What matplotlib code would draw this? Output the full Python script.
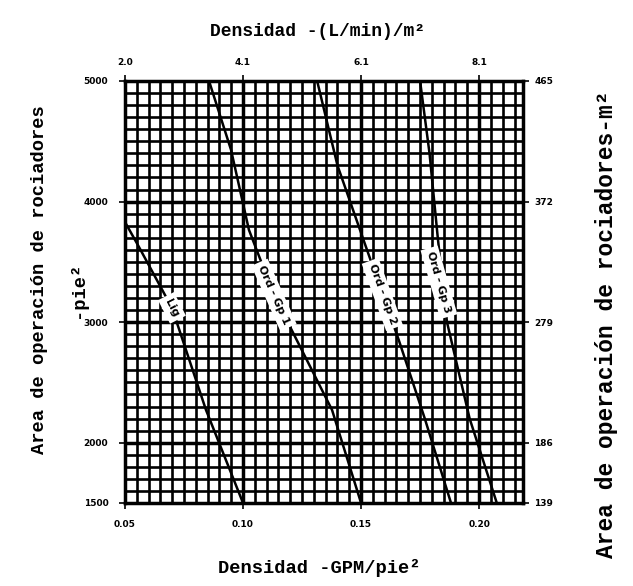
import numpy as np
import matplotlib
matplotlib.use("Agg")
import matplotlib.pyplot as plt

# density in GPM/pie2, area in pie2
lig_density = [0.050, 0.0559, 0.0699, 0.0843, 0.100]
lig_area = [3830, 3624, 3118, 2272, 1500]
gp1_density = [0.0856, 0.0949, 0.1025, 0.1131, 0.1377, 0.1500]
gp1_area = [5000, 4430, 3765, 3226, 2272, 1500]
gp2_density = [0.1314, 0.1400, 0.1525, 0.1660, 0.1770, 0.1881]
gp2_area = [5000, 4300, 3600, 2850, 2200, 1500]
gp3_density = [0.1750, 0.1790, 0.1825, 0.1864, 0.1960, 0.2075]
gp3_area = [5000, 4400, 3700, 3000, 2200, 1500]

curve_labels = ["Lig", "Ord - Gp 1", "Ord - Gp 2", "Ord - Gp 3"]

x_ticks = [0.05, 0.10, 0.15, 0.20]
x_ticklabels = ["0.05", "0.10", "0.15", "0.20"]
top_ticklabels = ["2.0", "4.1", "6.1", "8.1"]
y_ticks = [1500, 2000, 3000, 4000, 5000]
y_ticklabels = ["1500", "2000", "3000", "4000", "5000"]
right_ticklabels = ["139", "186", "279", "372", "465"]

mono = "Liberation Mono"

fig = plt.figure(figsize=(6.33, 5.86), dpi=100)
ax = fig.add_axes([125 / 633, 1 - 503 / 586, 398 / 633, 422 / 586])
ax.set_xlim(0.05, 0.2186)
ax.set_ylim(1500, 5000)

# dense grid
for gx in np.arange(0.055, 0.218, 0.005):
    ax.axvline(gx, color="black", lw=1.9, zorder=1)
for gy in np.arange(1600, 5000, 100):
    ax.axhline(gy, color="black", lw=1.9, zorder=1)
for gx in x_ticks[1:]:
    ax.axvline(gx, color="black", lw=2.5, zorder=1)
for gy in y_ticks[1:-1]:
    ax.axhline(gy, color="black", lw=2.5, zorder=1)

# curves
ax.plot(lig_density, lig_area, color="black", lw=1.8, zorder=3)
ax.plot(gp1_density, gp1_area, color="black", lw=1.8, zorder=3)
ax.plot(gp2_density, gp2_area, color="black", lw=1.8, zorder=3)
ax.plot(gp3_density, gp3_area, color="black", lw=1.8, zorder=3)

lab_kw = dict(fontsize=8, fontweight="bold", ha="center", va="center", zorder=4,
              bbox=dict(boxstyle="square,pad=0.35", fc="white", ec="none"))
ax.text(0.0699, 3118, curve_labels[0], rotation=-63, **lab_kw)
ax.text(0.1131, 3226, curve_labels[1], rotation=-66, **lab_kw)
ax.text(0.1590, 3230, curve_labels[2], rotation=-70, **lab_kw)
ax.text(0.1830, 3330, curve_labels[3], rotation=-74, **lab_kw)

for s in ax.spines.values():
    s.set_linewidth(2.5)
    s.set_zorder(5)

tick_font = dict(fontsize=6.5, fontweight="bold")
ax.set_xticks(x_ticks)
ax.set_xticklabels(x_ticklabels, **tick_font)
ax.set_yticks(y_ticks)
ax.set_yticklabels(y_ticklabels, **tick_font)
ax.tick_params(direction="out", length=4, width=1.2, pad=8)

top = ax.secondary_xaxis("top")
top.set_xticks(x_ticks)
top.set_xticklabels(top_ticklabels, **tick_font)
top.tick_params(direction="out", length=4, width=1.2, pad=6)

right = ax.secondary_yaxis("right")
right.set_yticks(y_ticks)
right.set_yticklabels(right_ticklabels, **tick_font)
right.tick_params(direction="out", length=4, width=1.2, pad=4)

title_kw = dict(family=mono, fontweight="bold", ha="center", va="center")
fig.text(318 / 633, 1 - 32 / 586, "Densidad -(L/min)/m²", fontsize=13, **title_kw)
fig.text(319 / 633, 1 - 568 / 586, "Densidad -GPM/pie²", fontsize=13.5, **title_kw)
fig.text(40 / 633, 1 - 280 / 586, "Area de operación de rociadores", rotation=90,
         fontsize=13.5, **title_kw)
fig.text(78 / 633, 1 - 290 / 586, "-pie²", rotation=90, fontsize=13.5, **title_kw)
fig.text(607 / 633, 1 - 324 / 586, "Area de operación de rociadores-m²", rotation=90,
         fontsize=16.5, **title_kw)

fig.savefig("out.png", dpi=100)
